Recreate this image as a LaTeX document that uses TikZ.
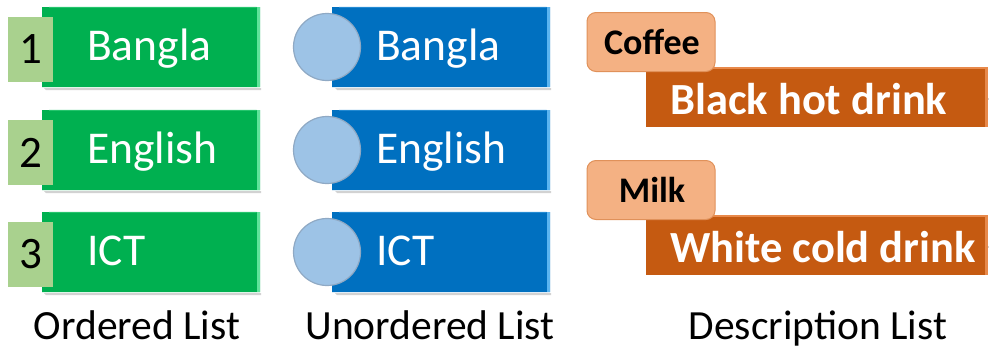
\documentclass[tikz,border=0pt]{standalone}
\usepackage{fontspec}
\setmainfont{Carlito}
\usetikzlibrary{shapes.misc,shapes.geometric}
\definecolor{gbar}{HTML}{00B050}
\definecolor{gbarlt}{HTML}{5FE39A}
\definecolor{gsq}{HTML}{A9D18E}
\definecolor{bbar}{HTML}{0070C0}
\definecolor{bbarlt}{HTML}{5AB4F0}
\definecolor{bcirc}{HTML}{9DC3E6}
\definecolor{bcircb}{HTML}{8FA9C4}
\definecolor{obar}{HTML}{C55A11}
\definecolor{obarlt}{HTML}{E8894A}
\definecolor{obox}{HTML}{F4B183}
\definecolor{oboxb}{HTML}{E0915A}
\begin{document}
\begin{tikzpicture}[x=1pt,y=-1pt,
  barshape/.style={chamfered rectangle, chamfered rectangle corners={north west,south west},
    chamfered rectangle xsep=7pt, chamfered rectangle ysep=9pt,
    minimum width=218pt, minimum height=80pt, inner sep=0pt, draw=none},
  gbarbox/.style={barshape, fill=gbar},
  bbarbox/.style={barshape, fill=bbar},
  numsq/.style={rectangle, fill=gsq, minimum width=45pt, minimum height=65pt, inner sep=0pt,
    font=\fontsize{45}{50}\selectfont, text=black},
  bullet/.style={circle, fill=bcirc, draw=bcircb, line width=1.2pt, minimum size=67pt, inner sep=0pt},
  itemtxt/.style={anchor=base west, inner sep=0pt, text=white, font=\fontsize{45.5}{50}\selectfont},
  caption/.style={anchor=base, inner sep=0pt, font=\fontsize{41.5}{46}\selectfont, text=black},
  termbox/.style={rectangle, rounded corners=9pt, fill=obox, draw=oboxb, line width=1pt,
    minimum width=128pt, minimum height=59pt, inner sep=0pt},
  termtxt/.style={anchor=base, inner sep=0pt, font=\bfseries\fontsize{36}{40}\selectfont},
  defbar/.style={rectangle, fill=obar, minimum width=342pt, minimum height=59pt, inner sep=0pt},
  deftxt/.style={anchor=base west, inner sep=0pt, text=white, font=\bfseries\fontsize{44.5}{50}\selectfont},
]
\useasboundingbox (0,0) rectangle (991,351);
% ---------- Ordered list ----------
\foreach \rr/\yy/\txt in {1/47/Bangla,2/150/English,3/252/ICT}{
  \fill[gray!35] (44,\yy+41) -- (261,\yy+41) -- (261,\yy+43) -- (46,\yy+43) -- cycle;
  \node[gbarbox] (g\rr) at (151,\yy) {};
  \fill[gbarlt] ([xshift=-3.5pt]g\rr.north east) rectangle (g\rr.south east);
  \draw[gbarlt!60!gbar, line width=0.8pt] ([xshift=7pt,yshift=-0.4pt]g\rr.north west) -- ([xshift=-3.5pt,yshift=-0.4pt]g\rr.north east);
  \node[numsq] (n\rr) at (30.5,\yy+2.5) {\rr};
  \node[itemtxt] (gt\rr) at (87,\yy+13.5) {\txt};
}
\node[caption] (capo) at (137,339) {Ordered List};
% ---------- Unordered list ----------
\foreach \rr/\yy/\txt in {1/47/Bangla,2/150/English,3/252/ICT}{
  \fill[gray!35] (335,\yy+41) -- (551,\yy+41) -- (551,\yy+43) -- (337,\yy+43) -- cycle;
  \node[bbarbox] (b\rr) at (441,\yy) {};
  \fill[bbarlt] ([xshift=-3.5pt]b\rr.north east) rectangle (b\rr.south east);
  \draw[bbarlt!60!bbar, line width=0.8pt] ([xshift=7pt,yshift=-0.4pt]b\rr.north west) -- ([xshift=-3.5pt,yshift=-0.4pt]b\rr.north east);
  \node[bullet] (c\rr) at (327,\yy) {};
  \node[itemtxt] (bt\rr) at (376,\yy+13.5) {\txt};
}
\node[caption] (capu) at (430,339) {Unordered List};
% ---------- Description list ----------
\foreach \rr/\yy/\term/\dd in {1/42/Coffee/Black hot drink,2/190/Milk/White cold drink}{
  \fill[gray!35] (647,\yy+56) rectangle (989,\yy+58);
  \node[defbar] (d\rr) at (817,\yy+55) {};
  \fill[obarlt] ([xshift=-3.5pt]d\rr.north east) rectangle (d\rr.south east);
  \draw[obarlt, line width=1.2pt] ([yshift=-0.6pt]d\rr.north west) -- ([xshift=-3.5pt,yshift=-0.6pt]d\rr.north east);
  \node[termbox] (t\rr) at (651,\yy) {};
  \node[termtxt] (tt\rr) at (652,\yy+12.5) {\term};
  \node[deftxt] (dt\rr) at (670,\yy+72.5) {\dd};
}
\node[caption] (capd) at (818,339) {Description List};
\end{tikzpicture}
\end{document}
